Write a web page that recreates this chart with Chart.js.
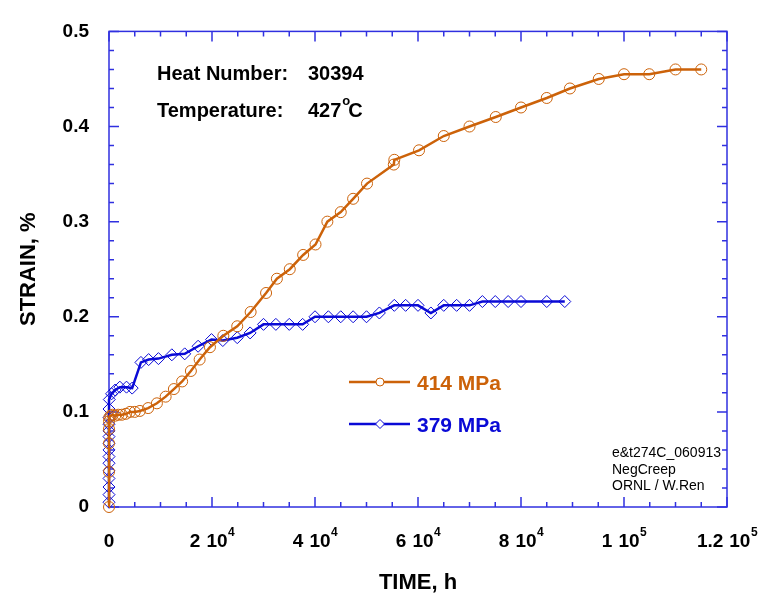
<!DOCTYPE html>
<html>
<head>
<meta charset="utf-8">
<title>Creep strain vs time</title>
<script src="https://cdn.jsdelivr.net/npm/chart.js@4.4.1/dist/chart.umd.min.js"></script>
<style>
  html, body { margin: 0; padding: 0; background: #ffffff; }
  #wrap { width: 763px; height: 605px; }
</style>
</head>
<body>
<div id="wrap"><canvas id="creepChart" width="763" height="605"></canvas></div>
<script>
// 414 MPa test
var time414 = [0, 0, 0, 0, 0, 50, 300, 700, 1200, 1800, 2500, 3300, 4100, 5000, 6000,
  7600, 9300, 11000, 12600, 14200, 15900, 17600, 19600, 22200, 24900, 27500, 30500,
  32600, 35100, 37700, 40100, 42400, 45000, 47400, 50100, 55300, 55400, 60200, 65000,
  70000, 75100, 80000, 85000, 89500, 95100, 100000, 104900, 110000, 115000]
var strain414 = [0, 0.037, 0.067, 0.082, 0.09, 0.094, 0.096, 0.097, 0.096, 0.097, 0.097, 0.098, 0.1, 0.1, 0.101,
  0.104, 0.109, 0.116, 0.124, 0.132, 0.143, 0.155, 0.168, 0.18, 0.19, 0.205, 0.225,
  0.24, 0.25, 0.265, 0.276, 0.3, 0.31, 0.324, 0.34, 0.36, 0.365, 0.375, 0.39,
  0.4, 0.41, 0.42, 0.43, 0.44, 0.45, 0.455, 0.455, 0.46, 0.46]

// 379 MPa test
var time379 = [0, 0, 0, 0, 0, 0, 0, 0, 0, 0, 0, 0, 0, 0,
  60, 500, 1200, 2100, 3400, 4500, 6200, 7700, 9600, 12200, 14700, 17300, 19900,
  22100, 24900, 27400, 30000, 32400, 35000, 37600, 40000, 42600, 45000, 47400, 50000,
  52500, 55400, 57600, 60000, 62500, 65000, 67500, 70000, 72500, 75000, 77500, 80000,
  85000, 88500]
var strain379 = [0.005, 0.013, 0.021, 0.03, 0.038, 0.046, 0.053, 0.06, 0.067, 0.074, 0.08, 0.087, 0.094, 0.103,
  0.113, 0.119, 0.123, 0.126, 0.126, 0.125, 0.152, 0.155, 0.156, 0.16, 0.161, 0.169, 0.176,
  0.175, 0.178, 0.183, 0.192, 0.192, 0.192, 0.192, 0.2, 0.2, 0.2, 0.2, 0.2,
  0.204, 0.212, 0.212, 0.212, 0.204, 0.212, 0.212, 0.212, 0.216, 0.216, 0.216, 0.216,
  0.216, 0.216]

var seriesLabels = ['414 MPa', '379 MPa']
var xTickValues = [0, 20000, 40000, 60000, 80000, 100000, 120000]
var yTickValues = [0, 0.1, 0.2, 0.3, 0.4, 0.5]
var noteLines = ['e&t274C_060913', 'NegCreep', 'ORNL / W.Ren']
var heatNumber = '30394'
var temperature = '427'

var orange = '#cc6209'
var blue = '#0a0ad6'
var axisBlue = '#3030e0'
var FONT = 'Arial, "Liberation Sans", Helvetica, sans-serif'

function toPoints(xs, ys) {
    return xs.map(function (x, i) { return { x: x, y: ys[i] } })
}

// mantissa / exponent pair for labels like "2 10^4"
function splitTick(v) {
    if (v === 0) return ['0', '']
    var exp = Math.floor(Math.log10(v))
    var man = +(v / Math.pow(10, exp)).toFixed(2)
    return [String(man), String(exp)]
}

function drawCircle(ctx, x, y, r) {
    ctx.beginPath()
    ctx.arc(x, y, r, 0, Math.PI * 2)
    ctx.fillStyle = '#ffffff'
    ctx.fill()
    ctx.stroke()
}

function drawDiamond(ctx, x, y, r) {
    ctx.beginPath()
    ctx.moveTo(x - r, y)
    ctx.lineTo(x, y - r)
    ctx.lineTo(x + r, y)
    ctx.lineTo(x, y + r)
    ctx.closePath()
    ctx.fillStyle = '#ffffff'
    ctx.fill()
    ctx.stroke()
}

var framePlugin = {
    id: 'frame',
    beforeDatasetsDraw: function (chart) {
        var ctx = chart.ctx
        var a = chart.chartArea
        var xs = chart.scales.x
        var ys = chart.scales.y
        ctx.save()
        ctx.strokeStyle = axisBlue
        ctx.lineWidth = 1.5
        ctx.strokeRect(a.left, a.top, a.right - a.left, a.bottom - a.top)
        ctx.beginPath()
        for (var t = 0; t <= 120000; t += 5000) {
            var px = xs.getPixelForValue(t)
            var len = t % 20000 === 0 ? 10 : 5
            ctx.moveTo(px, a.bottom); ctx.lineTo(px, a.bottom - len)
            ctx.moveTo(px, a.top); ctx.lineTo(px, a.top + len)
        }
        for (var k = 0; k <= 25; k++) {
            var py = ys.getPixelForValue(k * 0.02)
            var l = k % 5 === 0 ? 10 : 5
            ctx.moveTo(a.left, py); ctx.lineTo(a.left + l, py)
            ctx.moveTo(a.right, py); ctx.lineTo(a.right - l, py)
        }
        ctx.stroke()
        ctx.restore()
    },
    afterDraw: function (chart) {
        var ctx = chart.ctx
        var a = chart.chartArea
        var xs = chart.scales.x
        ctx.save()
        ctx.fillStyle = '#000000'

        // x tick labels with powers of ten
        xTickValues.forEach(function (v) {
            var parts = splitTick(v)
            var px = xs.getPixelForValue(v)
            ctx.font = 'bold 19px ' + FONT
            ctx.textBaseline = 'alphabetic'
            if (!parts[1]) {
                ctx.textAlign = 'center'
                ctx.fillText(parts[0], px, 547)
                return
            }
            var w1 = ctx.measureText(parts[0]).width
            var gap = 6
            var w2 = ctx.measureText('10').width
            ctx.font = 'bold 12px ' + FONT
            var w3 = ctx.measureText(parts[1]).width
            var x0 = px - (w1 + gap + w2 + w3) / 2
            ctx.textAlign = 'left'
            ctx.font = 'bold 19px ' + FONT
            ctx.fillText(parts[0], x0, 547)
            ctx.fillText('10', x0 + w1 + gap, 547)
            ctx.font = 'bold 12px ' + FONT
            ctx.fillText(parts[1], x0 + w1 + gap + w2 + 0.5, 536)
        })

        // axis titles
        ctx.font = 'bold 22px ' + FONT
        ctx.textAlign = 'center'
        ctx.textBaseline = 'middle'
        ctx.fillText('TIME, h', (a.left + a.right) / 2, 583)
        ctx.save()
        ctx.translate(29, (a.top + a.bottom) / 2)
        ctx.rotate(-Math.PI / 2)
        ctx.fillText('STRAIN, %', 0, 0)
        ctx.restore()

        // test conditions
        ctx.textAlign = 'left'
        ctx.textBaseline = 'alphabetic'
        ctx.font = 'bold 20px ' + FONT
        ctx.fillText('Heat Number:', 157, 80)
        ctx.fillText(heatNumber, 308, 80)
        ctx.fillText('Temperature:', 157, 117)
        ctx.fillText(temperature, 308, 117)
        var tw = ctx.measureText(temperature).width
        ctx.font = 'bold 13px ' + FONT
        ctx.fillText('o', 308 + tw + 1, 105)
        ctx.font = 'bold 20px ' + FONT
        ctx.fillText('C', 308 + tw + 7, 117)

        // legend
        var rows = [
            { y: 382, color: orange, marker: 'circle' },
            { y: 424, color: blue, marker: 'diamond' }
        ]
        rows.forEach(function (row, i) {
            ctx.strokeStyle = row.color
            ctx.lineWidth = 2.5
            ctx.beginPath()
            ctx.moveTo(349, row.y)
            ctx.lineTo(410, row.y)
            ctx.stroke()
            ctx.lineWidth = 1
            if (row.marker === 'circle') drawCircle(ctx, 380, row.y, 4)
            else drawDiamond(ctx, 380, row.y, 4.5)
            ctx.fillStyle = row.color
            ctx.font = 'bold 21px ' + FONT
            ctx.fillText(seriesLabels[i], 417, row.y + 8)
        })

        // file note
        ctx.fillStyle = '#000000'
        ctx.font = '14px ' + FONT
        noteLines.forEach(function (s, i) {
            ctx.fillText(s, 612, 457 + i * 16.5)
        })
        ctx.restore()
    }
}

var ctx = document.getElementById('creepChart').getContext('2d')

var creepChart = new Chart(ctx, {
    type: 'line',
    data: {
        datasets: [
            {
                label: seriesLabels[0],
                data: toPoints(time414, strain414),
                borderColor: orange,
                borderWidth: 2.5,
                pointStyle: 'circle',
                pointRadius: 5.5,
                pointBorderWidth: 1,
                pointBorderColor: orange,
                pointBackgroundColor: 'rgba(255,255,255,0)',
                tension: 0,
                clip: false
            },
            {
                label: seriesLabels[1],
                data: toPoints(time379, strain379),
                borderColor: blue,
                borderWidth: 2.5,
                pointStyle: 'rectRot',
                pointRadius: 6,
                pointBorderWidth: 1,
                pointBorderColor: blue,
                pointBackgroundColor: 'rgba(255,255,255,0)',
                tension: 0,
                clip: false
            }
        ]
    },
    options: {
        responsive: false,
        animation: false,
        layout: { padding: { left: 0, top: 18, right: 36, bottom: 0 } },
        plugins: {
            legend: { display: false },
            tooltip: { enabled: false }
        },
        scales: {
            x: {
                type: 'linear',
                min: 0,
                max: 120000,
                grid: { display: false, drawTicks: false },
                border: { display: false },
                ticks: { display: false },
                afterFit: function (scale) { scale.height = 98 }
            },
            y: {
                min: 0,
                max: 0.5,
                grid: { display: false, drawTicks: false },
                border: { display: false },
                afterBuildTicks: function (scale) {
                    scale.ticks = yTickValues.map(function (v) { return { value: v } })
                },
                ticks: {
                    padding: 20,
                    color: '#000000',
                    font: { family: FONT, size: 19, weight: 'bold' },
                    callback: function (v) { return String(v) }
                },
                afterFit: function (scale) { scale.width = 109 }
            }
        }
    },
    plugins: [framePlugin]
})
</script>
</body>
</html>
